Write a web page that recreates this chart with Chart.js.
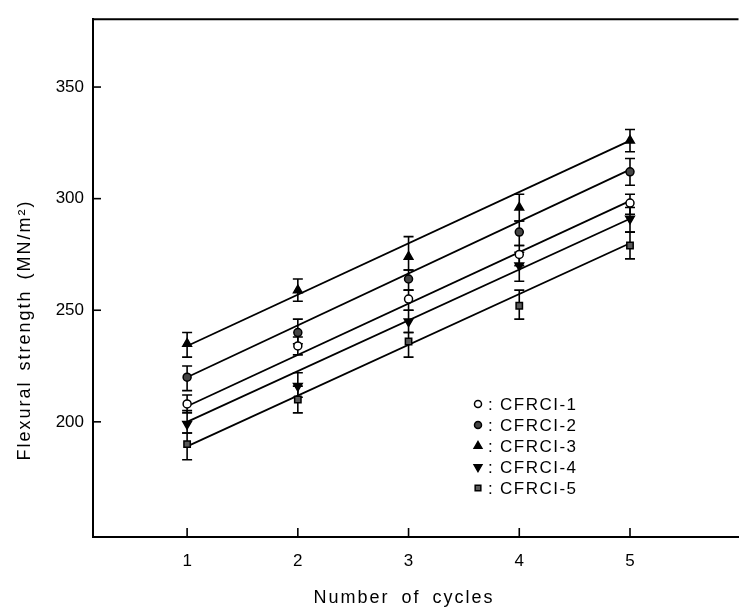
<!DOCTYPE html>
<html><head><meta charset="utf-8">
<script src="https://cdn.jsdelivr.net/npm/chart.js@4/dist/chart.umd.min.js"></script>
<style>html,body{margin:0;padding:0;background:#fff;overflow:hidden}#wrap{width:745px;height:612px;position:relative}</style>
</head><body><div id="wrap"><canvas id="c" width="745" height="612"></canvas></div>
<script>
// ---- data ----
const cycles = [1, 2, 3, 4, 5];
const seriesNames = ['CFRCI-1', 'CFRCI-2', 'CFRCI-3', 'CFRCI-4', 'CFRCI-5'];
const mean1 = [208, 234, 255, 275, 298];
const low1  = [204, 230, 250, 270, 293];
const high1 = [212, 238, 259, 279, 302];
const mean2 = [220, 240, 264, 285, 312];
const low2  = [214, 235, 259, 279, 306];
const high2 = [225, 246, 268, 290, 318];
const mean3 = [235, 259, 274, 296, 326];
const low3  = [229, 254, 268, 290, 321];
const high3 = [240, 264, 283, 302, 331];
const mean4 = [199, 216, 245, 270, 291];
const low4  = [195, 211, 240, 263, 285];
const high4 = [205, 222, 250, 276, 296];
const mean5 = [190, 210, 236, 252, 279];
const low5  = [183, 204, 229, 246, 273];
const high5 = [195, 216, 240, 259, 285];
const fitX = [1, 5];
const fit1 = [207, 299];
const fit2 = [220, 313];
const fit3 = [234, 326];
const fit4 = [200, 291];
const fit5 = [189, 280];
const xTickValues = [1, 2, 3, 4, 5];
const yTickValues = [200, 250, 300, 350];
const xTitle = 'Number of cycles';
const yTitle = 'Flexural strength (MN/m\u00B2)';

const means = [mean1, mean2, mean3, mean4, mean5];
const lows = [low1, low2, low3, low4, low5];
const highs = [high1, high2, high3, high4, high5];
const fits = [fit1, fit2, fit3, fit4, fit5];

const markerStyles = [
  {pointStyle: 'circle', radius: 4, bg: '#ffffff', border: '#000', rot: 0},
  {pointStyle: 'circle', radius: 4, bg: '#454545', border: '#000', rot: 0},
  {pointStyle: 'triangle', radius: 5, bg: '#000', border: '#000', rot: 0},
  {pointStyle: 'triangle', radius: 5, bg: '#000', border: '#000', rot: 180},
  {pointStyle: 'rect', radius: 4.5, bg: '#5a5a5a', border: '#000', rot: 0}
];

const datasets = [];
fits.forEach((f, i) => {
  datasets.push({
    label: 'fit ' + seriesNames[i],
    data: fitX.map((x, k) => ({x: x, y: f[k]})),
    borderColor: '#000', borderWidth: 1.8, pointRadius: 0, showLine: true,
    fill: false, isFit: true, order: 2
  });
});
means.forEach((m, i) => {
  const s = markerStyles[i];
  datasets.push({
    label: seriesNames[i],
    data: cycles.map((x, k) => ({x: x, y: m[k]})),
    showLine: false,
    pointStyle: s.pointStyle, pointRadius: s.radius, pointRotation: s.rot,
    pointBackgroundColor: s.bg, pointBorderColor: s.border, pointBorderWidth: 1.5,
    errLow: lows[i], errHigh: highs[i], order: 1
  });
});

const FONT = '"Liberation Sans", Arial, Helvetica, sans-serif';

const decor = {
  id: 'decor',
  beforeDatasetsDraw(chart) {
    const {ctx, scales: {x, y}} = chart;
    ctx.save();
    ctx.strokeStyle = '#000';
    ctx.lineWidth = 1.6;
    chart.data.datasets.forEach(ds => {
      if (!ds.errLow) return;
      ds.data.forEach((p, k) => {
        const px = x.getPixelForValue(p.x);
        const y1 = y.getPixelForValue(ds.errLow[k]);
        const y2 = y.getPixelForValue(ds.errHigh[k]);
        ctx.beginPath();
        ctx.moveTo(px, y1); ctx.lineTo(px, y2);
        ctx.moveTo(px - 5, y1); ctx.lineTo(px + 5, y1);
        ctx.moveTo(px - 5, y2); ctx.lineTo(px + 5, y2);
        ctx.stroke();
      });
    });
    ctx.restore();
  },
  afterDraw(chart) {
    const {ctx, chartArea: a, scales: {x, y}} = chart;
    ctx.save();
    ctx.strokeStyle = '#000';
    ctx.lineWidth = 2;
    // top frame
    ctx.beginPath(); ctx.moveTo(a.left - 1, a.top); ctx.lineTo(a.right, a.top); ctx.stroke();
    // inside ticks
    ctx.lineWidth = 1.6;
    yTickValues.forEach(v => {
      const py = y.getPixelForValue(v);
      ctx.beginPath(); ctx.moveTo(a.left, py); ctx.lineTo(a.left + 8, py); ctx.stroke();
    });
    xTickValues.forEach(v => {
      const px = x.getPixelForValue(v);
      ctx.beginPath(); ctx.moveTo(px, a.bottom); ctx.lineTo(px, a.bottom - 9); ctx.stroke();
    });
    // axis titles
    ctx.fillStyle = '#000';
    ctx.font = '18px ' + FONT;
    ctx.textAlign = 'center';
    ctx.textBaseline = 'middle';
    try { ctx.letterSpacing = '2px'; ctx.wordSpacing = '5px'; } catch (e) {}
    ctx.fillText(xTitle, 404, 598);
    try { ctx.wordSpacing = '3px'; } catch (e) {}
    ctx.save();
    ctx.translate(25, 330);
    ctx.rotate(-Math.PI / 2);
    ctx.fillText(yTitle, 0, 0);
    ctx.restore();
    // legend
    const rows = [404, 425, 446, 467, 488];
    const mx = 478;
    ctx.textAlign = 'left';
    ctx.font = '17px ' + FONT;
    try { ctx.letterSpacing = '1.5px'; ctx.wordSpacing = '0px'; } catch (e) {}
    chart.data.datasets.filter(d => !d.isFit).forEach((ds, i) => {
      const yy = rows[i];
      ctx.fillStyle = ds.pointBackgroundColor;
      ctx.strokeStyle = ds.pointBorderColor;
      ctx.lineWidth = 1.5;
      Chart.helpers.drawPoint(ctx, {
        pointStyle: ds.pointStyle, radius: ds.pointRadius - 0.5, rotation: ds.pointRotation,
        borderWidth: 1.5
      }, mx, yy);
      ctx.fillStyle = '#000';
      ctx.fillText(':', mx + 10, yy + 1);
      ctx.fillText(ds.label, mx + 22, yy + 1);
    });
    ctx.restore();
  }
};

new Chart(document.getElementById('c'), {
  type: 'scatter',
  data: {datasets: datasets},
  options: {
    responsive: false,
    animation: false,
    layout: {padding: {top: 11, right: 0, left: 0, bottom: 0}},
    plugins: {legend: {display: false}, tooltip: {enabled: false}},
    scales: {
      x: {
        type: 'linear', min: 0.15, max: 5.98,
        afterBuildTicks: s => { s.ticks = xTickValues.map(v => ({value: v})); },
        afterFit: s => { s.height = 75; },
        grid: {display: true, drawOnChartArea: false, drawTicks: false},
        border: {display: true, color: '#000', width: 2},
        ticks: {padding: 14, color: '#000', font: {family: FONT, size: 17}, maxRotation: 0}
      },
      y: {
        type: 'linear', min: 148.4, max: 380.4,
        afterBuildTicks: s => { s.ticks = yTickValues.map(v => ({value: v})); },
        afterFit: s => { s.width = 93; },
        grid: {display: true, drawOnChartArea: false, drawTicks: false},
        border: {display: true, color: '#000', width: 2},
        ticks: {padding: 9, color: '#000', font: {family: FONT, size: 17}}
      }
    }
  },
  plugins: [decor]
});
</script>
</body></html>
